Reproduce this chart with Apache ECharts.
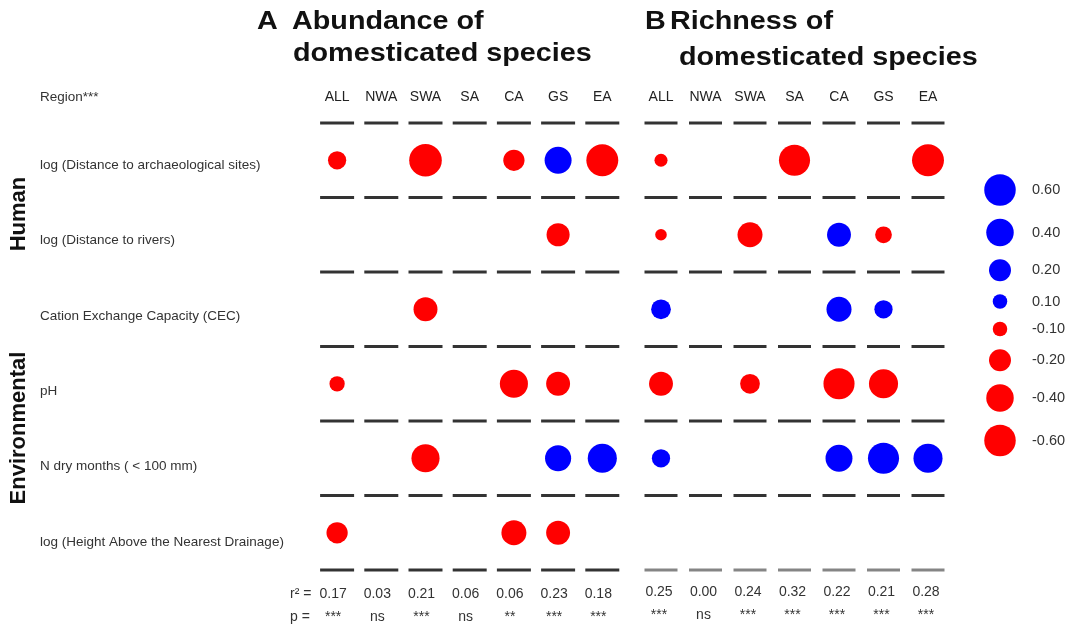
<!DOCTYPE html>
<html><head><meta charset="utf-8">
<script src="https://cdn.jsdelivr.net/npm/echarts@6/dist/echarts.min.js"></script>
<style>html,body{margin:0;padding:0;background:#fff}#c{width:1065px;height:629px}</style>
</head><body><div id="c"></div>
<script>
// ---------- data ----------
const regions = ['ALL','NWA','SWA','SA','CA','GS','EA'];
const variables = [
  'log (Distance to archaeological sites)',
  'log (Distance to rivers)',
  'Cation Exchange Capacity (CEC)',
  'pH',
  'N dry months ( < 100 mm)',
  'log (Height Above the Nearest Drainage)'
];
// standardized coefficients, rows = variables, cols = regions (null = not retained)
const abundance = [
  [-0.15, null, -0.65, null, -0.19,  0.38, -0.62],
  [ null, null,  null, null,  null, -0.24,  null],
  [ null, null, -0.27, null,  null,  null,  null],
  [-0.11, null,  null, null, -0.43, -0.27,  null],
  [ null, null, -0.43, null,  null,  0.35,  0.48],
  [-0.19, null,  null, null, -0.31, -0.27,  null]
];
const richness = [
  [-0.09, null,  null, -0.58,  null,  null, -0.62],
  [-0.08, null, -0.31,  null,  0.27, -0.13,  null],
  [ 0.17, null,  null,  null,  0.31,  0.15,  null],
  [-0.27, null, -0.17,  null, -0.58, -0.48,  null],
  [ 0.15, null,  null,  null,  0.38,  0.58,  0.48],
  [ null, null,  null,  null,  null,  null,  null]
];
const r2Abundance = ['0.17','0.03','0.21','0.06','0.06','0.23','0.18'];
const pAbundance  = ['***','ns','***','ns','**','***','***'];
const r2Richness  = ['0.25','0.00','0.24','0.32','0.22','0.21','0.28'];
const pRichness   = ['***','ns','***','***','***','***','***'];
const legendValues = [0.60, 0.40, 0.20, 0.10, -0.10, -0.20, -0.40, -0.60];

// ---------- helpers ----------
const FONT = '"Liberation Sans", Arial, Helvetica, sans-serif';
const sizeKnots = [[0,0],[0.1,14.5],[0.2,22],[0.4,27.5],[0.6,31.5],[0.8,36]];
function diam(v){
  const a = Math.abs(v);
  for (let i = 1; i < sizeKnots.length; i++) {
    if (a <= sizeKnots[i][0]) {
      const [x0,y0] = sizeKnots[i-1], [x1,y1] = sizeKnots[i];
      return y0 + (y1-y0)*(a-x0)/(x1-x0);
    }
  }
  return sizeKnots[sizeKnots.length-1][1];
}
function colorOf(v){ return v > 0 ? '#0000FF' : '#FF0000'; }
function cells(matrix){
  const out = [];
  matrix.forEach((row, r) => row.forEach((v, c) => { if (v !== null) out.push([c, r, v]); }));
  return out;
}
function dashes(nRows, nCols, lastColor){
  const out = [];
  for (let b = 0; b <= nRows; b++)
    for (let c = 0; c < nCols; c++) {
      const item = { value: [c, b - 0.5] };
      if (b === nRows && lastColor) item.itemStyle = { color: lastColor };
      out.push(item);
    }
  return out;
}
const legendPos = [0];
for (let i = 1; i < legendValues.length; i++)
  legendPos.push(legendPos[i-1] + (diam(legendValues[i-1]) + diam(legendValues[i]))/2 + 13);
const legendTotal = legendPos[legendPos.length-1];

function bottomLabel(r2, p){
  return function(val, idx){ return '{a|' + r2[idx] + '}\n{b|' + p[idx] + '}'; };
}
const bottomRich = {
  a: { fontFamily: FONT, fontSize: 14, color: '#333', lineHeight: 23 },
  b: { fontFamily: FONT, fontSize: 14, color: '#333', lineHeight: 23 }
};
const topLabel = { show: true, interval: 0, fontFamily: FONT, fontSize: 14, color: '#222', margin: 19 };
const hiddenCat = { axisLine:{show:false}, axisTick:{show:false}, splitLine:{show:false} };
const TITLE_FONT = 'bold 25px ' + FONT;
const TSX = 1.15;

const chart = echarts.init(document.getElementById('c'));
const option = {
  animation: false,
  backgroundColor: '#fff',
  grid: [
    { left: 315, top: 123, width: 309.4, height: 447 },
    { left: 638.75, top: 123, width: 311.5, height: 447 },
    { left: 985, top: 190, width: 30, height: legendTotal },
    { left: 40, top: 127.3, width: 10, height: 452.4 }
  ],
  xAxis: [
    Object.assign({ type:'category', gridIndex:0, data:regions, position:'top', axisLabel: topLabel }, hiddenCat),
    Object.assign({ type:'category', gridIndex:0, data:regions, position:'bottom',
      axisLabel:{ interval:0, margin: 12.5, formatter: bottomLabel(r2Abundance, pAbundance), rich: bottomRich, padding:[0,8,0,0] } }, hiddenCat),
    Object.assign({ type:'category', gridIndex:1, data:regions, position:'top', axisLabel: topLabel }, hiddenCat),
    Object.assign({ type:'category', gridIndex:1, data:regions, position:'bottom',
      axisLabel:{ interval:0, margin: 11, formatter: bottomLabel(r2Richness, pRichness), rich: bottomRich, padding:[0,4,0,0] } }, hiddenCat),
    { type:'value', gridIndex:2, min:-1, max:1, show:false },
    { type:'value', gridIndex:3, min:0, max:1, show:false }
  ],
  yAxis: [
    { type:'value', gridIndex:0, min:-0.5, max:5.5, inverse:true, show:false },
    { type:'value', gridIndex:1, min:-0.5, max:5.5, inverse:true, show:false },
    { type:'value', gridIndex:2, min:0, max:legendTotal, inverse:true, show:false },
    Object.assign({ type:'category', gridIndex:3, data:variables, inverse:true,
      axisLabel:{ show:true, interval:0, align:'left', margin:0, fontFamily: FONT, fontSize:13.5, color:'#333' } }, hiddenCat)
  ],
  series: [
    { type:'scatter', xAxisIndex:0, yAxisIndex:0, symbol:'rect', symbolSize:[34,3], silent:true,
      itemStyle:{ color:'#000' }, data: dashes(variables.length, regions.length) },
    { type:'scatter', xAxisIndex:2, yAxisIndex:1, symbol:'rect', symbolSize:[33,3], silent:true,
      itemStyle:{ color:'#000' }, data: dashes(variables.length, regions.length, '#666') },
    { type:'scatter', name:'Abundance', xAxisIndex:0, yAxisIndex:0, symbol:'circle',
      symbolSize: v => diam(v[2]), itemStyle:{ color: p => colorOf(p.value[2]), opacity:1 },
      data: cells(abundance) },
    { type:'scatter', name:'Richness', xAxisIndex:2, yAxisIndex:1, symbol:'circle',
      symbolSize: v => diam(v[2]), itemStyle:{ color: p => colorOf(p.value[2]), opacity:1 },
      data: cells(richness) },
    { type:'scatter', name:'legend', xAxisIndex:4, yAxisIndex:2, symbol:'circle',
      symbolSize: v => diam(v[2]), itemStyle:{ color: p => colorOf(p.value[2]), opacity:1 },
      label:{ show:true, position:'right', fontFamily: FONT, fontSize:14.5, color:'#333',
        formatter: p => p.value[2].toFixed(2) },
      data: legendValues.map((v,i) => ({ value:[0, legendPos[i], v], label:{ distance: 32 - diam(v)/2 } })) }
  ],
  graphic: [
    { type:'text', x:257, y:22, scaleX:TSX, style:{ text:'A', font:TITLE_FONT, fill:'#111', textVerticalAlign:'middle', verticalAlign:'middle' } },
    { type:'text', x:292, y:22, scaleX:TSX, style:{ text:'Abundance of', font:TITLE_FONT, fill:'#111', textVerticalAlign:'middle', verticalAlign:'middle' } },
    { type:'text', x:293, y:54, scaleX:TSX, style:{ text:'domesticated species', font:TITLE_FONT, fill:'#111', textVerticalAlign:'middle', verticalAlign:'middle' } },
    { type:'text', x:645, y:22, scaleX:TSX, style:{ text:'B', font:TITLE_FONT, fill:'#111', textVerticalAlign:'middle', verticalAlign:'middle' } },
    { type:'text', x:670, y:22, scaleX:TSX, style:{ text:'Richness of', font:TITLE_FONT, fill:'#111', textVerticalAlign:'middle', verticalAlign:'middle' } },
    { type:'text', x:679, y:58, scaleX:TSX, style:{ text:'domesticated species', font:TITLE_FONT, fill:'#111', textVerticalAlign:'middle', verticalAlign:'middle' } },
    { type:'text', x:40, y:97, style:{ text:'Region***', font:'13.5px ' + FONT, fill:'#333', textVerticalAlign:'middle', verticalAlign:'middle' } },
    { type:'text', x:290, y:594, style:{ text:'r\u00B2 =', font:'14px ' + FONT, fill:'#333', textVerticalAlign:'middle', verticalAlign:'middle' } },
    { type:'text', x:290, y:617, style:{ text:'p =', font:'14px ' + FONT, fill:'#333', textVerticalAlign:'middle', verticalAlign:'middle' } },
    { type:'text', x:19, y:214, rotation:Math.PI/2, style:{ text:'Human', font:'bold 22px ' + FONT, fill:'#111', textAlign:'center', align:'center', textVerticalAlign:'middle', verticalAlign:'middle' } },
    { type:'text', x:19, y:428, rotation:Math.PI/2, style:{ text:'Environmental', font:'bold 22px ' + FONT, fill:'#111', textAlign:'center', align:'center', textVerticalAlign:'middle', verticalAlign:'middle' } }
  ]
};
chart.setOption(option);
</script>
</body></html>
